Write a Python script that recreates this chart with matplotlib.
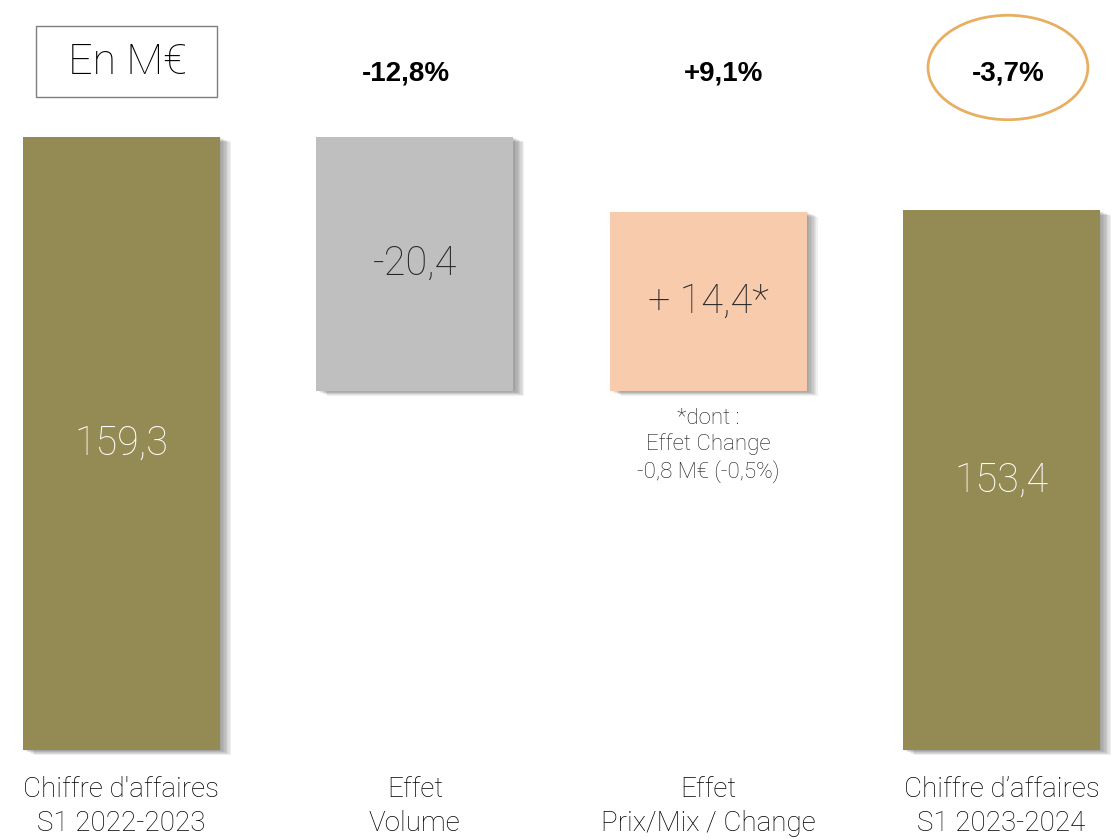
import matplotlib
matplotlib.use("Agg")
import matplotlib.pyplot as plt
from matplotlib.patches import Rectangle, Ellipse
import matplotlib.patheffects as pe

# ---- data ----
categories = ["Chiffre d'affaires\nS1 2022-2023", "Effet\nVolume",
              "Effet\nPrix/Mix / Change", "Chiffre d\u2019affaires\nS1 2023-2024"]
start_total = 159.3
volume_effect = -20.4
price_effect = 14.4
end_total = 153.4
value_labels = ["159,3", "-20,4", "+ 14,4*", "153,4"]
pct_labels = ["-12,8%", "+9,1%", "-3,7%"]
footnote = "*dont :\nEffet Change\n-0,8 M\u20ac (-0,5%)"
unit_label = "En M\u20ac"
AXIS_BASE = 110.0  # truncated value axis

colors = ["#948A54", "#BFBFBF", "#F8CBAD", "#948A54"]
label_colors = ["white", "#262626", "#262626", "white"]

bottoms = [AXIS_BASE, start_total + volume_effect, start_total + volume_effect, AXIS_BASE]
heights = [start_total - AXIS_BASE, -volume_effect, price_effect, end_total - AXIS_BASE]

LIGHT = ["Roboto", "DejaVu Sans"]

fig = plt.figure(figsize=(11.19, 8.4), dpi=100)
ax = fig.add_axes([0, 0, 1, 1])
ax.set_xlim(-0.4142, 3.4006)
ax.set_ylim(102.75, 170.33)
ax.axis("off")

x = list(range(len(categories)))
bars = ax.bar(x, heights, bottom=bottoms, width=0.672, color=colors, zorder=2)
shadow = [pe.SimplePatchShadow(offset=(k, -0.45 * k), shadow_rgbFace="#404040", alpha=0.075)
          for k in range(8, 0, -1)]
for b in bars:
    b.set_path_effects(shadow + [pe.Normal()])

for i, b in enumerate(bars):
    cy = bottoms[i] + heights[i] / 2
    ax.text(x[i], cy, value_labels[i], ha="center", va="center", fontsize=28.5,
            color=label_colors[i], family=LIGHT, fontweight="light", zorder=3)

# category labels
for i, c in enumerate(categories):
    ax.text(x[i], 105.45, c, ha="center", va="center", fontsize=20, color="#000000",
            family=LIGHT, fontweight="light", linespacing=1.3)

# percentages
pct_dx = [-0.03, 0.053, 0.022]
for i, p in enumerate(pct_labels):
    ax.text(x[i + 1] + pct_dx[i], 164.45, p, ha="center", va="center", fontsize=20,
            fontweight="bold", family=["Liberation Sans", "DejaVu Sans"], color="black")

# ellipse around final pct
ax.add_patch(Ellipse((x[3] + 0.022, 164.9), 0.545, 8.4, fill=False,
                     edgecolor="#E8AF62", lw=2, zorder=4))

# footnote
ax.text(x[2], (start_total + volume_effect) - 4.4, footnote, ha="center", va="center",
        fontsize=16, color="#1a1a1a", family=LIGHT, fontweight="light", linespacing=1.27)

# unit box
fig.text(127 / 1119, 1 - 63 / 840, unit_label, ha="center", va="center", fontsize=31,
         family=LIGHT, fontweight="light", color="black")
fig.add_artist(Rectangle((36 / 1119, 1 - 97 / 840), 181 / 1119, 71 / 840,
                         transform=fig.transFigure, fill=False, edgecolor="#7F7F7F", lw=1))

fig.savefig("out.png", dpi=100)
